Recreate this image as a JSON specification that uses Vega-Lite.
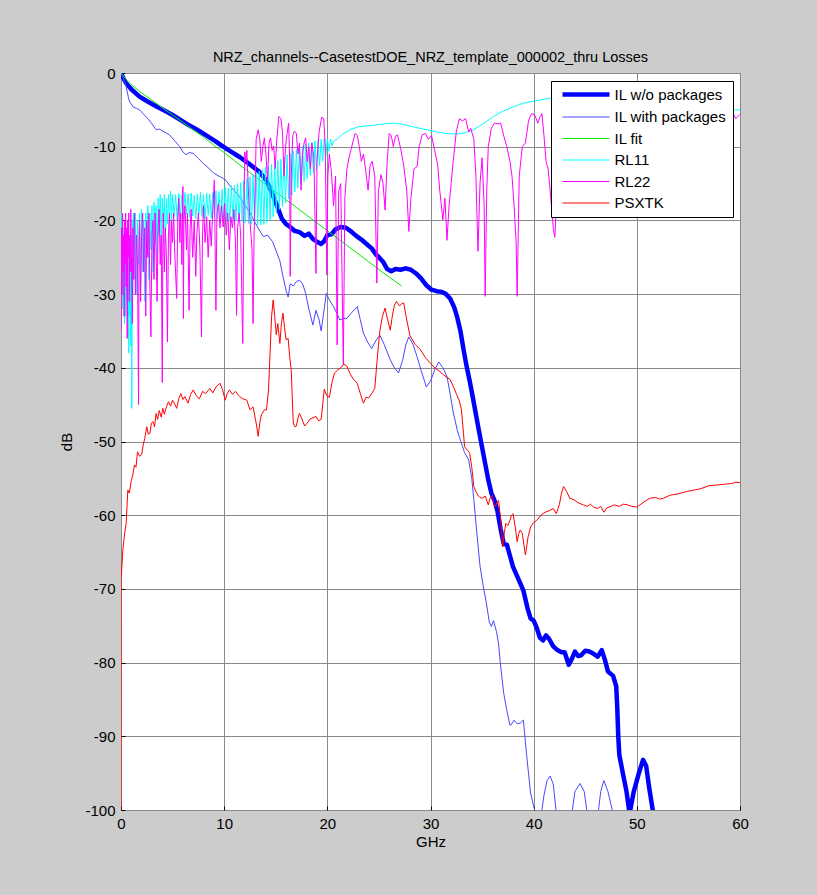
{
"$schema":"https://vega.github.io/schema/vega-lite/v6.json",
"width":619,"height":737,
"autosize":{"type":"none"},
"padding":{"left":121,"top":73,"right":77,"bottom":85},
"background":"#cccccc",
"title":{"text":"NRZ_channels--CasetestDOE_NRZ_template_000002_thru Losses","font":"Liberation Sans","fontSize":14.5,"fontWeight":"normal","color":"black","anchor":"middle","offset":1},
"config":{"view":{"fill":"white","stroke":"black","strokeWidth":1},"font":"Liberation Sans",
"axis":{"labelFont":"Liberation Sans","labelFontSize":15,"labelColor":"black","titleFont":"Liberation Sans","titleFontSize":15,"titleFontWeight":"normal","titleColor":"black","gridColor":"#8a8a8a","gridOpacity":1,"gridWidth":1,"domain":false,"ticks":true,"tickSize":-4,"tickColor":"black","tickWidth":1,"labelPadding":10,"labelFlush":false}},
"datasets":{
"il":[
{"x":0,"y":0},{"x":0.2,"y":-0.6},{"x":0.5,"y":-1.4},{"x":1,"y":-2.2},{"x":1.8,"y":-3.2},{"x":2.5,"y":-3.8},{"x":3.4,"y":-4.5},{"x":4.2,"y":-5.1},{"x":5,"y":-5.7},{"x":5.8,"y":-6.4},{"x":6.6,"y":-7.1},{"x":7.5,"y":-7.8},{"x":8.3,"y":-8.5},{"x":9.1,"y":-9.2},{"x":9.9,"y":-10.0},{"x":10.7,"y":-10.7},{"x":11.5,"y":-11.4},{"x":12.5,"y":-12.4},{"x":13.4,"y":-13.4},{"x":14.1,"y":-14.6},{"x":14.7,"y":-16.5},{"x":15.2,"y":-18.3},{"x":15.6,"y":-19.8},{"x":16.0,"y":-20.5},{"x":16.4,"y":-20.9},{"x":16.8,"y":-21.4},{"x":17.3,"y":-21.6},{"x":17.8,"y":-22.1},{"x":18.2,"y":-21.8},{"x":18.6,"y":-22.5},{"x":19.0,"y":-22.9},{"x":19.4,"y":-23.2},{"x":19.7,"y":-22.8},{"x":20.0,"y":-22.0},{"x":20.4,"y":-21.9},{"x":20.8,"y":-21.2},{"x":21.3,"y":-20.9},{"x":21.8,"y":-21.0},{"x":22.3,"y":-21.5},{"x":22.8,"y":-22.1},{"x":23.3,"y":-22.6},{"x":23.8,"y":-23.2},{"x":24.3,"y":-23.8},{"x":24.7,"y":-24.6},{"x":25.0,"y":-25.0},{"x":25.4,"y":-25.6},{"x":25.8,"y":-26.6},{"x":26.2,"y":-26.9},{"x":26.6,"y":-26.6},{"x":27.1,"y":-26.7},{"x":27.6,"y":-26.5},{"x":28.1,"y":-26.7},{"x":28.6,"y":-27.2},{"x":29.1,"y":-27.9},{"x":29.6,"y":-28.8},{"x":30.1,"y":-29.4},{"x":30.6,"y":-29.6},{"x":31.1,"y":-29.7},{"x":31.5,"y":-30.0},{"x":31.9,"y":-30.6},{"x":32.3,"y":-31.8},{"x":32.6,"y":-33.2},{"x":32.9,"y":-35.0},{"x":33.2,"y":-37.5},{"x":33.5,"y":-39.8},{"x":33.8,"y":-41.8},{"x":34.1,"y":-44.0},{"x":34.4,"y":-46.3},{"x":34.7,"y":-48.6},{"x":35.0,"y":-50.8},{"x":35.3,"y":-53.0},{"x":35.6,"y":-55.2},{"x":35.9,"y":-57.0},{"x":36.2,"y":-58.0},{"x":36.5,"y":-59.5},{"x":36.8,"y":-61.9},{"x":37.1,"y":-63.9},{"x":37.4,"y":-64.0},{"x":37.7,"y":-65.5},{"x":38.0,"y":-67.0},{"x":38.5,"y":-68.6},{"x":39.0,"y":-70.2},{"x":39.4,"y":-72.6},{"x":39.7,"y":-74.0},{"x":40.0,"y":-74.3},{"x":40.3,"y":-75.3},{"x":40.6,"y":-76.6},{"x":40.9,"y":-77.0},{"x":41.2,"y":-76.3},{"x":41.5,"y":-76.8},{"x":41.9,"y":-77.8},{"x":42.3,"y":-78.3},{"x":42.7,"y":-78.6},{"x":43.0,"y":-78.6},{"x":43.4,"y":-80.3},{"x":43.7,"y":-79.5},{"x":44.0,"y":-78.5},{"x":44.3,"y":-79.1},{"x":44.6,"y":-79.0},{"x":45.0,"y":-78.4},{"x":45.4,"y":-78.5},{"x":45.8,"y":-78.8},{"x":46.2,"y":-79.2},{"x":46.6,"y":-78.3},{"x":46.9,"y":-79.6},{"x":47.2,"y":-81.2},{"x":47.7,"y":-81.8},{"x":48.0,"y":-83.2},{"x":48.1,"y":-86.0},{"x":48.2,"y":-90.0},{"x":48.3,"y":-92.5},{"x":48.7,"y":-95.4},{"x":49.0,"y":-97.5},{"x":49.3,"y":-100.5},{"x":49.7,"y":-97.5},{"x":50.2,"y":-95.0},{"x":50.6,"y":-93.2},{"x":50.9,"y":-94.0},{"x":51.2,"y":-97.0},{"x":51.6,"y":-100.5},{"x":51.8,"y":-103}
],
"ilp":[
{"x":0,"y":0},{"x":0.3,"y":-1.0},{"x":0.5,"y":-1.9},{"x":0.7,"y":-3.2},{"x":0.8,"y":-3.8},{"x":1.0,"y":-4.2},{"x":1.15,"y":-4.6},{"x":1.5,"y":-4.8},{"x":1.8,"y":-5.0},{"x":2.2,"y":-5.6},{"x":2.6,"y":-6.2},{"x":3.0,"y":-6.9},{"x":3.4,"y":-7.7},{"x":3.7,"y":-7.6},{"x":4.2,"y":-8.0},{"x":4.7,"y":-8.4},{"x":5.2,"y":-9.2},{"x":5.7,"y":-10.0},{"x":6.0,"y":-10.7},{"x":6.3,"y":-11.1},{"x":6.6,"y":-10.8},{"x":7.0,"y":-10.9},{"x":7.5,"y":-11.6},{"x":8.0,"y":-12.3},{"x":8.5,"y":-12.9},{"x":9.0,"y":-13.6},{"x":9.5,"y":-14.0},{"x":9.9,"y":-14.3},{"x":10.2,"y":-14.6},{"x":10.5,"y":-15.2},{"x":11.0,"y":-16.0},{"x":11.5,"y":-16.8},{"x":12.0,"y":-17.9},{"x":12.5,"y":-19.0},{"x":13.0,"y":-20.3},{"x":13.4,"y":-21.3},{"x":13.8,"y":-22.2},{"x":14.2,"y":-22.0},{"x":14.7,"y":-22.9},{"x":15.0,"y":-24.0},{"x":15.4,"y":-25.5},{"x":15.7,"y":-27.6},{"x":16.0,"y":-29.5},{"x":16.2,"y":-30.4},{"x":16.4,"y":-28.6},{"x":16.7,"y":-28.9},{"x":17.0,"y":-28.3},{"x":17.3,"y":-28.1},{"x":17.6,"y":-28.6},{"x":17.9,"y":-29.9},{"x":18.2,"y":-32.0},{"x":18.6,"y":-34.2},{"x":18.9,"y":-32.2},{"x":19.2,"y":-33.5},{"x":19.4,"y":-35.0},{"x":19.6,"y":-33.0},{"x":19.9,"y":-29.9},{"x":20.2,"y":-30.8},{"x":20.6,"y":-31.7},{"x":21.0,"y":-32.8},{"x":21.2,"y":-33.5},{"x":21.6,"y":-33.3},{"x":21.9,"y":-33.3},{"x":22.3,"y":-32.6},{"x":22.9,"y":-31.7},{"x":23.2,"y":-33.5},{"x":23.5,"y":-35.3},{"x":23.9,"y":-36.5},{"x":24.3,"y":-37.4},{"x":24.7,"y":-36.3},{"x":25.1,"y":-35.6},{"x":25.5,"y":-36.8},{"x":26.1,"y":-38.9},{"x":26.5,"y":-40.0},{"x":26.9,"y":-40.7},{"x":27.3,"y":-39.0},{"x":27.6,"y":-36.9},{"x":27.9,"y":-35.8},{"x":28.3,"y":-36.8},{"x":28.7,"y":-38.5},{"x":29.1,"y":-40.4},{"x":29.6,"y":-42.6},{"x":30.0,"y":-41.8},{"x":30.4,"y":-40.3},{"x":30.8,"y":-39.2},{"x":31.2,"y":-40.0},{"x":31.6,"y":-41.2},{"x":31.9,"y":-43.5},{"x":32.2,"y":-46.0},{"x":32.6,"y":-48.5},{"x":32.9,"y":-49.8},{"x":33.3,"y":-51.5},{"x":33.7,"y":-52.5},{"x":34.0,"y":-55.0},{"x":34.2,"y":-57.9},{"x":34.5,"y":-62.5},{"x":34.8,"y":-66.9},{"x":35.1,"y":-69.5},{"x":35.4,"y":-71.8},{"x":35.7,"y":-74.5},{"x":35.9,"y":-75.1},{"x":36.1,"y":-74.3},{"x":36.4,"y":-75.8},{"x":36.6,"y":-77.5},{"x":36.8,"y":-80.5},{"x":37.1,"y":-84.2},{"x":37.4,"y":-86.5},{"x":37.7,"y":-88.5},{"x":37.9,"y":-88.3},{"x":38.1,"y":-87.8},{"x":38.4,"y":-88.3},{"x":38.7,"y":-88.2},{"x":39.0,"y":-87.8},{"x":39.3,"y":-92.3},{"x":39.5,"y":-95.0},{"x":39.7,"y":-97.7},{"x":40.0,"y":-99.5},{"x":40.3,"y":-101},{"x":40.7,"y":-101},{"x":41.0,"y":-98.0},{"x":41.3,"y":-96.0},{"x":41.6,"y":-95.4},{"x":41.9,"y":-96.5},{"x":42.2,"y":-100.5},{"x":42.6,"y":-102},{"x":43.3,"y":-102},{"x":43.7,"y":-100.5},{"x":44.0,"y":-97.5},{"x":44.5,"y":-96.4},{"x":44.9,"y":-97.5},{"x":45.2,"y":-100.5},{"x":45.6,"y":-102},{"x":46.2,"y":-101},{"x":46.5,"y":-97.5},{"x":46.8,"y":-96.0},{"x":47.2,"y":-97.5},{"x":47.7,"y":-100.5},{"x":48.0,"y":-103}
],
"fit":[
{"x":0,"y":0},{"x":0.5,"y":-0.9},{"x":1,"y":-1.6},{"x":2,"y":-2.7},{"x":3,"y":-3.7},{"x":4,"y":-4.7},{"x":5,"y":-5.7},{"x":6,"y":-6.7},{"x":7,"y":-7.7},{"x":8,"y":-8.7},{"x":9,"y":-9.8},{"x":10,"y":-10.8},{"x":11,"y":-11.9},{"x":12,"y":-13.0},{"x":14,"y":-15.1},{"x":16,"y":-17.2},{"x":18,"y":-19.3},{"x":20,"y":-21.4},{"x":22,"y":-23.5},{"x":24,"y":-25.6},{"x":26,"y":-27.7},{"x":27.2,"y":-28.9}
],
"rl11":[
{"x":0.00,"y":-20},{"x":0.05,"y":-27},{"x":0.10,"y":-19},{"x":0.15,"y":-32},{"x":0.20,"y":-21},{"x":0.25,"y":-30},{"x":0.30,"y":-24},{"x":0.35,"y":-34},{"x":0.40,"y":-22},{"x":0.45,"y":-33},{"x":0.50,"y":-25},{"x":0.55,"y":-31},{"x":0.60,"y":-23},{"x":0.65,"y":-36},{"x":0.70,"y":-24},{"x":0.75,"y":-38},{"x":0.80,"y":-24},{"x":0.85,"y":-33},{"x":0.90,"y":-26},{"x":0.95,"y":-37},{"x":1.00,"y":-22},{"x":1.05,"y":-45.5},{"x":1.10,"y":-20},{"x":1.15,"y":-30},{"x":1.20,"y":-19},
{"x":1.3,"y":-28},{"x":1.4,"y":-19},{"x":1.5,"y":-30},{"x":1.6,"y":-20},{"x":1.7,"y":-26},{"x":1.8,"y":-19},{"x":1.9,"y":-29},{"x":2.0,"y":-18.5},{"x":2.1,"y":-27},{"x":2.2,"y":-20},{"x":2.3,"y":-31},{"x":2.4,"y":-19},{"x":2.5,"y":-25},{"x":2.6,"y":-18},{"x":2.7,"y":-28},{"x":2.8,"y":-19},{"x":2.9,"y":-24},{"x":3.0,"y":-18},{"x":3.1,"y":-27},{"x":3.2,"y":-17.5},{"x":3.3,"y":-23},{"x":3.4,"y":-18},{"x":3.5,"y":-25},{"x":3.6,"y":-17},{"x":3.7,"y":-22},{"x":3.8,"y":-16.5},{"x":3.9,"y":-24},{"x":4.0,"y":-17},{"x":4.1,"y":-21},{"x":4.2,"y":-16.5},{"x":4.3,"y":-23},{"x":4.4,"y":-17},{"x":4.5,"y":-20.5},{"x":4.6,"y":-16.5},{"x":4.7,"y":-21},{"x":4.8,"y":-16},{"x":4.9,"y":-20},{"x":5.0,"y":-16.5},
{"x":5.15,"y":-19.5},{"x":5.3,"y":-16.5},{"x":5.45,"y":-20},{"x":5.6,"y":-16.3},{"x":5.75,"y":-19.5},{"x":5.9,"y":-16.5},{"x":6.05,"y":-19.8},{"x":6.2,"y":-16.2},{"x":6.35,"y":-19.2},{"x":6.5,"y":-16.4},{"x":6.65,"y":-19.6},{"x":6.8,"y":-16.3},{"x":6.95,"y":-19.4},{"x":7.1,"y":-16.6},{"x":7.25,"y":-19.8},{"x":7.4,"y":-16.4},{"x":7.55,"y":-19.2},{"x":7.7,"y":-16.2},{"x":7.85,"y":-19.5},{"x":8.0,"y":-16.5},{"x":8.15,"y":-19.8},{"x":8.3,"y":-16.3},{"x":8.45,"y":-19.3},{"x":8.6,"y":-16.4},{"x":8.75,"y":-19.7},{"x":8.9,"y":-16.2},{"x":9.05,"y":-19.5},{"x":9.2,"y":-16.0},{"x":9.35,"y":-19.8},{"x":9.5,"y":-16.1},{"x":9.65,"y":-20.0},{"x":9.8,"y":-15.8},{"x":9.95,"y":-19.6},{"x":10.1,"y":-15.5},{"x":10.25,"y":-19.9},{"x":10.4,"y":-15.6},{"x":10.55,"y":-20.2},{"x":10.7,"y":-15.3},{"x":10.85,"y":-19.8},{"x":11.0,"y":-15.2},
{"x":11.15,"y":-20.1},{"x":11.3,"y":-15.0},{"x":11.45,"y":-20.2},{"x":11.6,"y":-14.9},{"x":11.75,"y":-20.2},{"x":11.9,"y":-14.6},{"x":12.05,"y":-20.3},{"x":12.2,"y":-14.3},{"x":12.35,"y":-20.4},{"x":12.5,"y":-14.1},{"x":12.65,"y":-20.5},{"x":12.8,"y":-13.8},{"x":12.95,"y":-20.6},{"x":13.1,"y":-13.5},{"x":13.25,"y":-20.6},{"x":13.4,"y":-13.3},{"x":13.55,"y":-20.6},{"x":13.7,"y":-13.1},{"x":13.85,"y":-20.5},{"x":14.0,"y":-12.8},{"x":14.15,"y":-20.3},{"x":14.3,"y":-12.6},{"x":14.45,"y":-19.9},{"x":14.6,"y":-12.4},{"x":14.75,"y":-19.5},{"x":14.9,"y":-12.1},{"x":15.05,"y":-19.0},{"x":15.2,"y":-11.9},{"x":15.35,"y":-18.5},{"x":15.5,"y":-11.7},{"x":15.65,"y":-18.1},{"x":15.8,"y":-11.4},{"x":15.95,"y":-17.6},{"x":16.1,"y":-11.1},{"x":16.25,"y":-17.1},{"x":16.4,"y":-10.9},{"x":16.55,"y":-16.6},{"x":16.7,"y":-10.6},{"x":16.85,"y":-16.1},{"x":17.0,"y":-10.3},{"x":17.15,"y":-15.6},{"x":17.3,"y":-10.1},{"x":17.45,"y":-15.1},{"x":17.6,"y":-9.9},{"x":17.75,"y":-14.7},{"x":17.9,"y":-9.7},{"x":18.05,"y":-14.3},{"x":18.2,"y":-9.5},{"x":18.35,"y":-13.9},{"x":18.5,"y":-9.4},{"x":18.65,"y":-13.5},{"x":18.8,"y":-9.2},{"x":18.95,"y":-13.1},{"x":19.1,"y":-9.1},{"x":19.25,"y":-12.6},{"x":19.4,"y":-9.0},{"x":19.55,"y":-12.0},{"x":19.7,"y":-8.9},{"x":19.85,"y":-11.3},{"x":20.0,"y":-8.9},{"x":20.15,"y":-10.6},{"x":20.3,"y":-9.0},{"x":20.45,"y":-9.9},{"x":20.6,"y":-9.3},
{"x":21.0,"y":-8.9},{"x":21.5,"y":-8.3},{"x":22.2,"y":-7.7},{"x":23.0,"y":-7.3},{"x":24.4,"y":-7.1},{"x":25.5,"y":-6.9},{"x":26.4,"y":-6.8},{"x":27.4,"y":-7.0},{"x":28.3,"y":-7.3},{"x":29.3,"y":-7.6},{"x":30.3,"y":-7.9},{"x":31.4,"y":-8.2},{"x":32.5,"y":-8.3},{"x":33.4,"y":-8.1},{"x":34.2,"y":-7.7},{"x":35.2,"y":-6.8},{"x":36.1,"y":-5.9},{"x":37.0,"y":-5.2},{"x":38.0,"y":-4.6},{"x":39.0,"y":-4.1},{"x":39.7,"y":-3.9},{"x":40.5,"y":-3.7},{"x":41.3,"y":-3.5},{"x":43,"y":-3.2},{"x":45,"y":-3.0},{"x":47,"y":-3.1},{"x":49,"y":-3.4},{"x":51,"y":-3.8},{"x":53,"y":-4.2},{"x":55,"y":-4.6},{"x":57,"y":-4.9},{"x":59,"y":-5.0},{"x":60,"y":-5.0}
],
"rl22":[
{"x":0.0,"y":-35},{"x":0.05,"y":-21},{"x":0.1,"y":-30},{"x":0.15,"y":-19},{"x":0.2,"y":-27},{"x":0.25,"y":-22},{"x":0.3,"y":-33},{"x":0.35,"y":-20},{"x":0.4,"y":-26},{"x":0.45,"y":-19},{"x":0.5,"y":-29},{"x":0.55,"y":-21},{"x":0.6,"y":-36},{"x":0.65,"y":-20},{"x":0.7,"y":-25},{"x":0.75,"y":-19},{"x":0.8,"y":-31},{"x":0.85,"y":-22},{"x":0.9,"y":-27},{"x":0.95,"y":-18.5},{"x":1.0,"y":-24},{"x":1.1,"y":-34},{"x":1.15,"y":-21},{"x":1.2,"y":-28},{"x":1.3,"y":-19},{"x":1.4,"y":-30},{"x":1.5,"y":-22},{"x":1.6,"y":-26},{"x":1.7,"y":-45},{"x":1.75,"y":-23},{"x":1.8,"y":-20},{"x":1.9,"y":-31},{"x":2.0,"y":-22},{"x":2.1,"y":-19},{"x":2.2,"y":-27},{"x":2.3,"y":-21},{"x":2.4,"y":-33},{"x":2.5,"y":-20},{"x":2.6,"y":-25},{"x":2.7,"y":-19},{"x":2.8,"y":-29},{"x":2.9,"y":-35.8},{"x":3.0,"y":-22},{"x":3.1,"y":-20},{"x":3.2,"y":-28},{"x":3.3,"y":-19},{"x":3.4,"y":-24},{"x":3.5,"y":-31},{"x":3.6,"y":-21},{"x":3.7,"y":-18.5},{"x":3.8,"y":-26},{"x":3.9,"y":-22},{"x":4.0,"y":-42},{"x":4.05,"y":-24},{"x":4.1,"y":-19},{"x":4.2,"y":-27},{"x":4.3,"y":-21},{"x":4.4,"y":-25},{"x":4.5,"y":-36.5},{"x":4.6,"y":-22},{"x":4.7,"y":-19},{"x":4.8,"y":-26},{"x":4.9,"y":-20},{"x":5.0,"y":-23},
{"x":5.1,"y":-19},{"x":5.2,"y":-24},{"x":5.4,"y":-30.6},{"x":5.5,"y":-20},{"x":5.6,"y":-17},{"x":5.7,"y":-23},{"x":5.8,"y":-19},{"x":5.9,"y":-26},{"x":6.0,"y":-15.4},{"x":6.05,"y":-33.3},{"x":6.1,"y":-20},{"x":6.2,"y":-18},{"x":6.35,"y":-24},{"x":6.45,"y":-19},{"x":6.6,"y":-32.2},{"x":6.7,"y":-21},{"x":6.8,"y":-18.5},{"x":6.95,"y":-25},{"x":7.1,"y":-20},{"x":7.25,"y":-27.6},{"x":7.35,"y":-22},{"x":7.5,"y":-19},{"x":7.65,"y":-24},{"x":7.8,"y":-35.8},{"x":7.9,"y":-22},{"x":8.0,"y":-18},{"x":8.15,"y":-23},{"x":8.3,"y":-19.5},{"x":8.45,"y":-25},{"x":8.6,"y":-20},{"x":8.75,"y":-23.5},{"x":8.9,"y":-18.5},{"x":9.05,"y":-14.5},{"x":9.2,"y":-32.2},{"x":9.3,"y":-19},{"x":9.45,"y":-17.7},{"x":9.6,"y":-21},{"x":9.75,"y":-18},{"x":9.9,"y":-20.9},{"x":10.05,"y":-17.7},{"x":10.2,"y":-22},{"x":10.35,"y":-19},{"x":10.5,"y":-24},{"x":10.65,"y":-19.5},{"x":10.8,"y":-21},{"x":10.95,"y":-18.5},{"x":11.1,"y":-23},{"x":11.2,"y":-32.9},{"x":11.3,"y":-21},{"x":11.45,"y":-19},{"x":11.6,"y":-22},{"x":11.8,"y":-36.7},{"x":11.9,"y":-20},
{"x":12.0,"y":-10.7},{"x":12.1,"y":-12},{"x":12.2,"y":-10.5},{"x":12.35,"y":-16},{"x":12.5,"y":-20},{"x":12.7,"y":-24},{"x":12.8,"y":-34},{"x":12.9,"y":-22},{"x":13.1,"y":-9},{"x":13.3,"y":-7.7},{"x":13.45,"y":-9},{"x":13.6,"y":-12},{"x":13.75,"y":-10},{"x":13.9,"y":-8.8},{"x":14.05,"y":-11},{"x":14.2,"y":-14.5},{"x":14.35,"y":-9.5},{"x":14.5,"y":-8.8},{"x":14.65,"y":-10.5},{"x":14.8,"y":-9.9},{"x":14.95,"y":-13},{"x":15.1,"y":-9},{"x":15.3,"y":-5.9},{"x":15.5,"y":-6.2},{"x":15.65,"y":-8},{"x":15.8,"y":-14},{"x":15.95,"y":-10},{"x":16.1,"y":-8.2},{"x":16.25,"y":-6.8},{"x":16.35,"y":-12},{"x":16.4,"y":-27.6},{"x":16.5,"y":-14},{"x":16.65,"y":-8.5},{"x":16.8,"y":-7.9},{"x":17.0,"y":-8.2},{"x":17.15,"y":-11},{"x":17.3,"y":-9.5},{"x":17.45,"y":-15.9},{"x":17.6,"y":-11},{"x":17.75,"y":-9.5},{"x":17.9,"y":-8.8},{"x":18.05,"y":-12},{"x":18.2,"y":-10},{"x":18.35,"y":-13},{"x":18.5,"y":-9.5},{"x":18.7,"y":-11.5},{"x":18.9,"y":-27.2},{"x":19.0,"y":-12},{"x":19.2,"y":-8},{"x":19.45,"y":-6.0},{"x":19.65,"y":-6.2},{"x":19.8,"y":-10},{"x":19.95,"y":-27.4},{"x":20.05,"y":-14},{"x":20.2,"y":-11},{"x":20.4,"y":-13.5},{"x":20.6,"y":-18},{"x":20.8,"y":-14},{"x":20.95,"y":-36.9},{"x":21.1,"y":-16},{"x":21.3,"y":-15},{"x":21.55,"y":-39.6},{"x":21.7,"y":-17},{"x":21.9,"y":-13},{"x":22.1,"y":-11.5},{"x":22.3,"y":-10.4},{"x":22.5,"y":-9.2},{"x":22.7,"y":-8.2},{"x":22.9,"y":-8.5},{"x":23.1,"y":-10},{"x":23.3,"y":-12},{"x":23.5,"y":-11},{"x":23.7,"y":-13},{"x":23.95,"y":-15.9},{"x":24.15,"y":-12.5},{"x":24.35,"y":-12.0},{"x":24.6,"y":-14},{"x":24.8,"y":-28.5},{"x":24.95,"y":-16},{"x":25.2,"y":-13.8},{"x":25.4,"y":-15},{"x":25.6,"y":-18.6},{"x":25.8,"y":-12},{"x":26.0,"y":-8.2},{"x":26.2,"y":-8.5},{"x":26.4,"y":-10},{"x":26.6,"y":-8.6},{"x":26.8,"y":-8.4},{"x":27.1,"y":-10.2},{"x":27.4,"y":-12.5},{"x":27.7,"y":-16},{"x":27.9,"y":-21.5},{"x":28.1,"y":-17},{"x":28.4,"y":-13},{"x":28.7,"y":-12.7},{"x":28.9,"y":-10},{"x":29.2,"y":-8.4},{"x":29.5,"y":-8.2},{"x":29.8,"y":-9},{"x":30.1,"y":-8.5},{"x":30.4,"y":-10.5},{"x":30.7,"y":-12.5},{"x":30.9,"y":-16},{"x":31.2,"y":-19.9},{"x":31.4,"y":-17},{"x":31.6,"y":-22.7},{"x":31.8,"y":-18},{"x":32.0,"y":-15},{"x":32.2,"y":-12},{"x":32.5,"y":-8},{"x":32.8,"y":-6.2},{"x":33.1,"y":-6.5},{"x":33.4,"y":-6.2},{"x":33.7,"y":-8},{"x":33.9,"y":-7.5},{"x":34.2,"y":-9},{"x":34.4,"y":-14},{"x":34.6,"y":-24.2},{"x":34.8,"y":-15},{"x":35.0,"y":-11.5},{"x":35.2,"y":-18},{"x":35.3,"y":-30.3},{"x":35.45,"y":-16},{"x":35.6,"y":-10},{"x":35.9,"y":-7.5},{"x":36.2,"y":-6.8},{"x":36.5,"y":-6.9},{"x":36.8,"y":-6.8},{"x":37.1,"y":-8.5},{"x":37.4,"y":-10},{"x":37.7,"y":-12},{"x":37.9,"y":-14},{"x":38.1,"y":-18},{"x":38.3,"y":-23},{"x":38.4,"y":-30.3},{"x":38.5,"y":-22},{"x":38.6,"y":-14},{"x":38.9,"y":-10},{"x":39.2,"y":-9.5},{"x":39.5,"y":-6.5},{"x":39.8,"y":-5.5},{"x":40.1,"y":-5.7},{"x":40.4,"y":-6.8},{"x":40.6,"y":-6.0},{"x":40.8,"y":-5.5},{"x":41.0,"y":-8.5},{"x":41.2,"y":-12},{"x":41.4,"y":-13},{"x":41.6,"y":-16},{"x":41.9,"y":-21},{"x":42.05,"y":-22.3},{"x":42.2,"y":-18},{"x":42.5,"y":-12},
{"x":43,"y":-8},{"x":43.7,"y":-14},{"x":44.4,"y":-7},{"x":45.2,"y":-12},{"x":46,"y":-6.5},{"x":46.8,"y":-15},{"x":47.6,"y":-8},{"x":48.4,"y":-11},{"x":49.2,"y":-6},{"x":50,"y":-13},{"x":50.8,"y":-7},{"x":51.6,"y":-16},{"x":52.4,"y":-9},{"x":53.2,"y":-6.5},{"x":54,"y":-12},{"x":54.8,"y":-7},{"x":55.6,"y":-14},{"x":56.4,"y":-8},{"x":57.2,"y":-6.2},{"x":58,"y":-11},{"x":58.6,"y":-9},{"x":59.0,"y":-6.8},{"x":59.3,"y":-5.4},{"x":59.6,"y":-6.2},{"x":60,"y":-5.6}
],
"xt":[
{"x":0,"y":-100},{"x":0.01,"y":-68.8},{"x":0.18,"y":-64.7},{"x":0.35,"y":-62.5},{"x":0.5,"y":-61.1},{"x":0.66,"y":-56.6},{"x":0.8,"y":-57},{"x":1.0,"y":-55.3},{"x":1.15,"y":-54.5},{"x":1.3,"y":-53.2},{"x":1.45,"y":-53.5},{"x":1.6,"y":-51.4},{"x":1.8,"y":-52},{"x":2.0,"y":-51.8},{"x":2.15,"y":-50.5},{"x":2.3,"y":-49.6},{"x":2.5,"y":-48.0},{"x":2.65,"y":-49},{"x":2.8,"y":-48.9},{"x":2.95,"y":-47.5},{"x":3.1,"y":-47.3},{"x":3.25,"y":-48},{"x":3.4,"y":-46.2},{"x":3.55,"y":-47},{"x":3.7,"y":-45.8},{"x":3.9,"y":-46.7},{"x":4.05,"y":-45.5},{"x":4.2,"y":-46.3},{"x":4.4,"y":-45.3},{"x":4.6,"y":-44.6},{"x":4.8,"y":-45.2},{"x":5.0,"y":-44.4},{"x":5.2,"y":-44.9},{"x":5.4,"y":-45.5},{"x":5.6,"y":-44.2},{"x":5.8,"y":-43.5},{"x":6.0,"y":-44.3},{"x":6.2,"y":-43.9},{"x":6.5,"y":-44.8},{"x":6.75,"y":-43.6},{"x":7.0,"y":-43.0},{"x":7.3,"y":-43.8},{"x":7.6,"y":-44.2},{"x":7.9,"y":-43.2},{"x":8.2,"y":-43.5},{"x":8.6,"y":-42.8},{"x":8.9,"y":-43.4},{"x":9.2,"y":-42.6},{"x":9.6,"y":-42.1},{"x":9.85,"y":-43.0},{"x":10.1,"y":-44.4},{"x":10.3,"y":-43.5},{"x":10.5,"y":-43.0},{"x":10.8,"y":-43.6},{"x":11.1,"y":-43.2},{"x":11.5,"y":-43.9},{"x":11.8,"y":-44.2},{"x":12.2,"y":-44.4},{"x":12.5,"y":-45.7},{"x":12.8,"y":-45.3},{"x":13.1,"y":-47.5},{"x":13.3,"y":-49.3},{"x":13.45,"y":-47.5},{"x":13.6,"y":-46.4},{"x":13.9,"y":-45.7},{"x":14.1,"y":-45.7},{"x":14.3,"y":-43},{"x":14.45,"y":-38},{"x":14.6,"y":-33},{"x":14.75,"y":-30.8},{"x":14.9,"y":-33},{"x":15.05,"y":-35.5},{"x":15.2,"y":-34},{"x":15.4,"y":-36.7},{"x":15.55,"y":-34},{"x":15.7,"y":-32.6},{"x":15.85,"y":-34.5},{"x":16.0,"y":-36.2},{"x":16.2,"y":-36},{"x":16.35,"y":-38.5},{"x":16.5,"y":-40.3},{"x":16.6,"y":-44},{"x":16.7,"y":-47.5},{"x":16.85,"y":-48},{"x":17.0,"y":-47.9},{"x":17.15,"y":-46.8},{"x":17.3,"y":-46.2},{"x":17.5,"y":-46.8},{"x":17.8,"y":-47.9},{"x":18.05,"y":-47.5},{"x":18.3,"y":-47.0},{"x":18.6,"y":-46.8},{"x":18.9,"y":-46.6},{"x":19.15,"y":-47.2},{"x":19.4,"y":-47.0},{"x":19.55,"y":-45},{"x":19.7,"y":-42.9},{"x":19.95,"y":-43.8},{"x":20.2,"y":-44.0},{"x":20.45,"y":-42},{"x":20.7,"y":-40.7},{"x":21.0,"y":-40.3},{"x":21.3,"y":-40.0},{"x":21.6,"y":-39.5},{"x":21.9,"y":-39.8},{"x":22.2,"y":-40.8},{"x":22.5,"y":-41.5},{"x":22.9,"y":-42.1},{"x":23.2,"y":-43.5},{"x":23.5,"y":-44.8},{"x":23.75,"y":-44},{"x":24.0,"y":-44.1},{"x":24.3,"y":-43.5},{"x":24.6,"y":-42.8},{"x":24.8,"y":-39.4},{"x":24.95,"y":-37},{"x":25.1,"y":-34.9},{"x":25.35,"y":-33},{"x":25.6,"y":-31.9},{"x":25.85,"y":-33.5},{"x":26.1,"y":-34.9},{"x":26.3,"y":-33},{"x":26.5,"y":-31.5},{"x":26.7,"y":-31.0},{"x":27.0,"y":-31.6},{"x":27.2,"y":-31.3},{"x":27.4,"y":-31.2},{"x":27.7,"y":-33.5},{"x":28.0,"y":-35.6},{"x":28.5,"y":-36.8},{"x":29.0,"y":-37.5},{"x":29.5,"y":-38.6},{"x":30.0,"y":-39.4},{"x":30.4,"y":-40},{"x":30.9,"y":-40.5},{"x":31.3,"y":-41.0},{"x":31.6,"y":-41.3},{"x":31.9,"y":-41.6},{"x":32.2,"y":-42.5},{"x":32.5,"y":-43.5},{"x":32.8,"y":-44.5},{"x":33.0,"y":-45.7},{"x":33.2,"y":-48.9},{"x":33.3,"y":-50.7},{"x":33.6,"y":-51.2},{"x":33.8,"y":-51.6},{"x":34.0,"y":-53.5},{"x":34.2,"y":-56.1},{"x":34.4,"y":-56.8},{"x":34.6,"y":-57.3},{"x":34.8,"y":-57.6},{"x":35.0,"y":-57.7},{"x":35.3,"y":-57.4},{"x":35.6,"y":-58.6},{"x":35.8,"y":-57.6},{"x":36.0,"y":-57.3},{"x":36.15,"y":-58.4},{"x":36.3,"y":-58.9},{"x":36.45,"y":-58.2},{"x":36.6,"y":-58.0},{"x":36.8,"y":-60.5},{"x":37.0,"y":-64.3},{"x":37.15,"y":-62.5},{"x":37.3,"y":-61.1},{"x":37.5,"y":-61.4},{"x":37.7,"y":-60.7},{"x":37.85,"y":-60.0},{"x":38.0,"y":-59.8},{"x":38.2,"y":-61.5},{"x":38.4,"y":-63.6},{"x":38.55,"y":-62.5},{"x":38.7,"y":-62.0},{"x":38.9,"y":-62.5},{"x":39.05,"y":-64},{"x":39.2,"y":-65.4},{"x":39.45,"y":-63},{"x":39.7,"y":-61.6},{"x":40.0,"y":-61.0},{"x":40.3,"y":-60.7},{"x":40.7,"y":-60.0},{"x":41.1,"y":-59.6},{"x":41.5,"y":-59.4},{"x":41.9,"y":-59.1},{"x":42.2,"y":-59.8},{"x":42.5,"y":-58.5},{"x":42.7,"y":-57},{"x":42.9,"y":-56.1},{"x":43.2,"y":-56.8},{"x":43.5,"y":-57.7},{"x":43.9,"y":-57.9},{"x":44.3,"y":-58.3},{"x":44.8,"y":-58.6},{"x":45.2,"y":-58.8},{"x":45.5,"y":-58.5},{"x":45.8,"y":-58.9},{"x":46.2,"y":-59.1},{"x":46.5,"y":-58.8},{"x":46.8,"y":-59.6},{"x":47.1,"y":-59.0},{"x":47.5,"y":-58.8},{"x":47.8,"y":-58.6},{"x":48.3,"y":-58.8},{"x":48.7,"y":-58.5},{"x":49.1,"y":-58.6},{"x":49.5,"y":-58.8},{"x":50.0,"y":-58.9},{"x":50.4,"y":-58.5},{"x":50.9,"y":-58.0},{"x":51.3,"y":-57.7},{"x":51.8,"y":-57.6},{"x":52.2,"y":-57.8},{"x":52.6,"y":-57.7},{"x":53.2,"y":-57.3},{"x":54.0,"y":-57.1},{"x":54.8,"y":-56.8},{"x":55.5,"y":-56.6},{"x":56.2,"y":-56.4},{"x":57.0,"y":-56.0},{"x":57.8,"y":-55.9},{"x":58.5,"y":-55.8},{"x":59.2,"y":-55.7},{"x":59.6,"y":-55.5},{"x":60,"y":-55.6}
]
},
"encoding":{
"x":{"field":"x","type":"quantitative","scale":{"domain":[0,60],"nice":false,"zero":false},"axis":{"values":[0,10,20,30,40,50,60],"title":"GHz","titlePadding":3,"labelExpr":"'' + datum.value"}},
"y":{"field":"y","type":"quantitative","scale":{"domain":[-100,0],"nice":false,"zero":false},"axis":{"values":[-100,-90,-80,-70,-60,-50,-40,-30,-20,-10,0],"title":"dB","titlePadding":10,"labelExpr":"'' + datum.value"}}
},
"layer":[
{"data":{"name":"il"},"mark":{"type":"line","clip":true,"strokeJoin":"round","strokeCap":"round","strokeWidth":4.5},
 "encoding":{
  "color":{"datum":"IL w/o packages","type":"nominal","scale":{"domain":["IL w/o packages","IL with packages","IL fit","RL11","RL22","PSXTK"],"range":["#0000ff","#4848ff","#00ee00","#00ffff","#ff00ff","#ff0000"]},
   "legend":{"orient":"none","legendX":430,"legendY":8,"title":null,"fillColor":"white","strokeColor":"black","padding":6,"symbolType":"M-4.7,0H4.7","symbolSize":100,"symbolOffset":21.5,"labelOffset":21,"labelFontSize":15,"labelFont":"Liberation Sans","labelColor":"black","rowPadding":5.5,"cornerRadius":0,
    "encode":{"symbols":{"update":{"strokeWidth":{"signal":"datum.value === 'IL w/o packages' ? 4.5 : 1"},"stroke":{"signal":"scale('color', datum.value)"},"fill":{"value":"transparent"},"opacity":{"value":1}}}}}}}},
{"data":{"name":"ilp"},"mark":{"type":"line","clip":true,"strokeWidth":1},"encoding":{"color":{"datum":"IL with packages","type":"nominal"}}},
{"data":{"name":"fit"},"mark":{"type":"line","clip":true,"strokeWidth":1},"encoding":{"color":{"datum":"IL fit","type":"nominal"}}},
{"data":{"name":"rl11"},"mark":{"type":"line","clip":true,"strokeWidth":1},"encoding":{"color":{"datum":"RL11","type":"nominal"}}},
{"data":{"name":"rl22"},"mark":{"type":"line","clip":true,"strokeWidth":1},"encoding":{"color":{"datum":"RL22","type":"nominal"}}},
{"data":{"name":"xt"},"mark":{"type":"line","clip":true,"strokeWidth":1},"encoding":{"color":{"datum":"PSXTK","type":"nominal"}}}
]
}
